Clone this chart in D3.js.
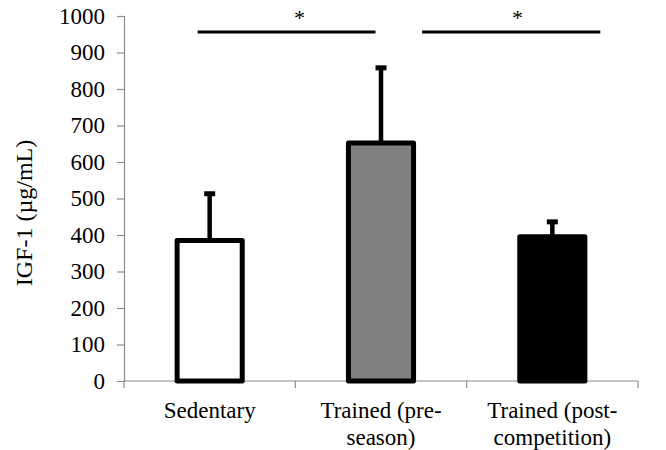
<!DOCTYPE html>
<html>
<head>
<meta charset="utf-8">
<script src="https://cdn.jsdelivr.net/npm/d3@7"></script>
<style>
  html, body { margin: 0; padding: 0; background: #fff; }
  svg { display: block; }
  svg text { font-family: "Liberation Serif", "Times New Roman", serif; }
</style>
</head>
<body>
<svg id="chart" width="666" height="450"></svg>
<script>
// ---- data ----
const categories = ["Sedentary", "Trained (pre-season)", "Trained (post-competition)"];
const categoryLines = [["Sedentary"], ["Trained (pre-", "season)"], ["Trained (post-", "competition)"]];
const means = [385, 652, 395];
const errorTops = [513, 858, 436];
const fills = ["#ffffff", "#808080", "#000000"];
const yTicks = [0, 100, 200, 300, 400, 500, 600, 700, 800, 900, 1000];
// significance brackets: positions in category-index units
const sigFrom = [-0.07, 1.24];
const sigTo = [0.968, 2.28];
const sigLevel = [956, 956];
const sigStarPos = [0.525, 1.796];
const sigStarLevel = [976, 976];
const sigLabels = ["*", "*"];

// ---- layout ----
const svg = d3.select("#chart");
const mLeft = 124, mRight = 638, mTop = 16, mBottom = 381;

const x = d3.scaleBand().domain(categories).range([mLeft, mRight])
  .paddingInner(0.62).paddingOuter(0.31);
const y = d3.scaleLinear().domain([0, 1000]).range([mBottom, mTop]);
const bw = x.bandwidth();
const xi = d3.scaleLinear().domain([0, 2])
  .range([x(categories[0]) + bw / 2, x(categories[2]) + bw / 2]);

// y axis
const yAxis = d3.axisLeft(y).tickValues(yTicks).tickSize(7).tickPadding(12).tickFormat(d3.format("d"));
const gy = svg.append("g").attr("transform", `translate(${mLeft},0)`).call(yAxis);
gy.attr("font-family", null);
gy.select(".domain").attr("stroke", "#8c8c8c").attr("stroke-width", 1.2);
gy.selectAll(".tick line").attr("stroke", "#8c8c8c").attr("stroke-width", 1.2);
gy.selectAll(".tick text").attr("font-size", 23).attr("fill", "#000");

// x axis line with ticks at category boundaries
const boundaries = [mLeft].concat(categories.map(c => x(c) + bw / 2 + x.step() / 2));
svg.append("line").attr("x1", mLeft).attr("x2", mRight).attr("y1", mBottom).attr("y2", mBottom)
  .attr("stroke", "#8c8c8c").attr("stroke-width", 1.2);
svg.selectAll(".xtick").data(boundaries).join("line")
  .attr("x1", d => d).attr("x2", d => d).attr("y1", mBottom).attr("y2", mBottom + 7)
  .attr("stroke", "#8c8c8c").attr("stroke-width", 1.2);

// category labels
categories.forEach((c, i) => {
  const t = svg.append("text").attr("x", x(c) + bw / 2).attr("y", 418)
    .attr("text-anchor", "middle").attr("font-size", 23).attr("fill", "#000");
  categoryLines[i].forEach((ln, j) => {
    t.append("tspan").attr("x", x(c) + bw / 2).attr("dy", j === 0 ? 0 : 27).text(ln);
  });
});

// y title
svg.append("text")
  .attr("transform", `translate(32,213) rotate(-90)`)
  .attr("text-anchor", "middle").attr("font-size", 24).attr("fill", "#000")
  .text("IGF-1 (µg/mL)");

// error bars (drawn before bars so the bar stroke covers the stem base)
categories.forEach((c, i) => {
  const cx = x(c) + bw / 2;
  svg.append("line").attr("x1", cx).attr("x2", cx)
    .attr("y1", y(means[i])).attr("y2", y(errorTops[i]))
    .attr("stroke", "#000").attr("stroke-width", 4.5);
  svg.append("line").attr("x1", cx - 5.5).attr("x2", cx + 5.5)
    .attr("y1", y(errorTops[i])).attr("y2", y(errorTops[i]))
    .attr("stroke", "#000").attr("stroke-width", 5);
});

// bars
svg.selectAll(".bar").data(categories).join("rect")
  .attr("x", d => x(d))
  .attr("width", bw)
  .attr("y", (d, i) => y(means[i]))
  .attr("height", (d, i) => y(0) - y(means[i]))
  .attr("fill", (d, i) => fills[i])
  .attr("stroke", "#000").attr("stroke-width", 5).attr("stroke-linejoin", "round");

// significance lines
sigFrom.forEach((f, i) => {
  svg.append("line").attr("x1", xi(f)).attr("x2", xi(sigTo[i]))
    .attr("y1", y(sigLevel[i])).attr("y2", y(sigLevel[i]))
    .attr("stroke", "#000").attr("stroke-width", 3);
  svg.append("text").attr("x", xi(sigStarPos[i])).attr("y", y(sigStarLevel[i]))
    .attr("text-anchor", "middle").attr("font-size", 22).attr("fill", "#000")
    .text(sigLabels[i]);
});
</script>
</body>
</html>
